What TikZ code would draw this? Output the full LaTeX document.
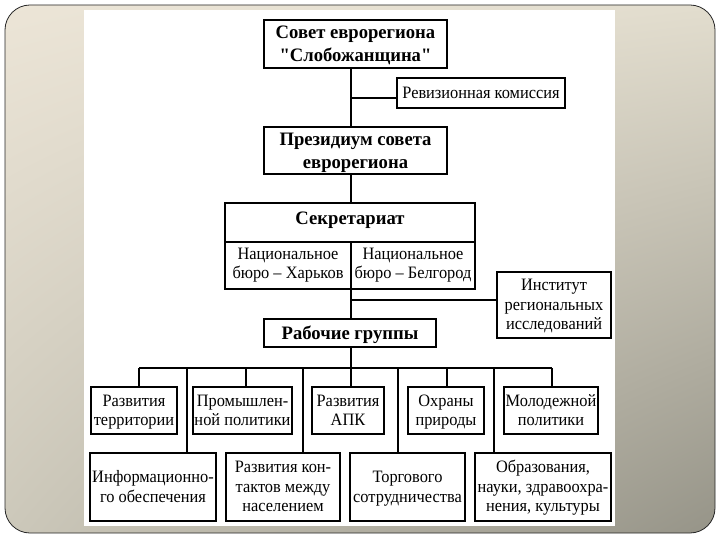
\documentclass[tikz,border=0pt]{standalone}
\usepackage{fontspec}
\setmainfont{Liberation Serif}[FakeStretch=0.94, Ligatures=TeXOff]
\newfontfamily\titleserif{Liberation Serif}[FakeStretch=0.98, Ligatures=TeXOff]
\usetikzlibrary{shadings}
\definecolor{bgUL}{RGB}{236,229,215}
\definecolor{bgUR}{RGB}{226,221,206}
\definecolor{bgLL}{RGB}{204,200,186}
\definecolor{bgLR}{RGB}{150,148,136}
\newcommand{\mytop}{\rule{0pt}{15pt}}
\newcommand{\mytopb}{\rule{0pt}{17.5pt}}
\newcommand{\mybot}{\rule[-4.5pt]{0pt}{4.5pt}}
\begin{document}
\begin{tikzpicture}[x=1pt,y=-1pt,
  regfont/.style={font=\fontsize{17.4}{19.5}\selectfont},
  boldfont/.style={font=\titleserif\fontsize{19}{23}\selectfont\bfseries},
  box/.style={draw, line width=1.3pt, inner sep=0pt, align=center, regfont,
    execute at end node={\mybot}},
  bbox/.style={box, boldfont},
  txt/.style={inner sep=0pt, align=center, regfont, execute at end node={\mybot}},
  conn/.style={line width=1.15pt}]
\useasboundingbox (0,0) rectangle (720,540);
\fill[white] (0,0) rectangle (720,540);
\shade[rounded corners=25pt,
  upper left=bgUL, upper right=bgUR, lower left=bgLL, lower right=bgLR] (5,5) rectangle (715,533);
\draw[line width=0.8pt, black!85, rounded corners=25pt] (5,5) rectangle (715,533);
\fill[white] (84,10) rectangle (615,526);

% nodes
\node[bbox, minimum width=183, minimum height=48] (sovet) at (355.5,44) {\mytopb Совет еврорегиона\\"Слобожанщина"};
\node[box, minimum width=168, minimum height=30] (reviz) at (481,93) {\mytop Ревизионная комиссия};
\node[bbox, minimum width=183, minimum height=47] (prez) at (355.5,150.5) {\mytopb Президиум совета\\еврорегиона};
\node[draw, line width=1.3pt, inner sep=0pt, minimum width=250, minimum height=86] (sekr) at (350,246) {};
\node[inner sep=0pt, boldfont] (sekrt) at (350,220) {Секретариат};
\node[txt] (kh) at (288,263.5) {\mytop Национальное\\бюро – Харьков};
\node[txt] (bel) at (413,263.5) {\mytop Национальное\\бюро – Белгород};
\node[box, minimum width=114, minimum height=66] (inst) at (554,305) {\mytop Институт\\региональных\\исследований};
\node[bbox, minimum width=172, minimum height=28] (rab) at (350,333) {\mytopb Рабочие группы};

\node[box, minimum width=86, minimum height=47] (t1) at (134,410.5) {\mytop Развития\\территории};
\node[box, minimum width=99, minimum height=47] (t2) at (242.5,410.5) {\mytop Промышлен-\\ной политики};
\node[box, minimum width=72, minimum height=47] (t3) at (348,410.5) {\mytop Развития\\АПК};
\node[box, minimum width=76, minimum height=47] (t4) at (446,410.5) {\mytop Охраны\\природы};
\node[box, minimum width=94, minimum height=47] (t5) at (551,410.5) {\mytop Молодежной\\политики};

\node[box, minimum width=126, minimum height=68] (b1) at (153,487) {\mytop Информационно-\\го обеспечения};
\node[box, minimum width=114, minimum height=68] (b2) at (283,487) {\mytop Развития кон-\\тактов между\\населением};
\node[box, minimum width=115, minimum height=68] (b3) at (407.5,487) {\mytop Торгового\\сотрудничества};
\node[box, minimum width=136, minimum height=68] (b4) at (543,487) {\mytop Образования,\\науки, здравоохра-\\нения, культуры};

% internal lines of the secretariat
\coordinate (sdivL) at (225,242);
\coordinate (sdivR) at (475,242);
\coordinate (smid) at (351,242);
\draw[conn] (sdivL) -- (sdivR);
\draw[conn] (smid) -- (smid |- sekr.south);

% spine
\coordinate (sp1) at (351,98);
\coordinate (sp2) at (351,300);
\coordinate (bus) at (351,368);
\draw[conn] (sovet.south -| sp1) -- (prez.north -| sp1);
\draw[conn] (sp1) -- (sp1 -| reviz.west);
\draw[conn] (prez.south -| sp1) -- (sekr.north -| sp1);
\draw[conn] (sekr.south -| sp2) -- (rab.north -| sp2);
\draw[conn] (sp2) -- (sp2 -| inst.west);
\draw[conn] (rab.south -| bus) -- (bus);

% bus
\coordinate (busL) at (139,368);
\coordinate (busR) at (552,368);
\draw[conn] (busL) -- (busR);
\coordinate (d1) at (139,368);
\coordinate (d2) at (246,368);
\coordinate (d3) at (351,368);
\coordinate (d4) at (447,368);
\coordinate (d5) at (552,368);
\draw[conn] (d1) -- (d1 |- t1.north);
\draw[conn] (d2) -- (d2 |- t2.north);
\draw[conn] (d3) -- (d3 |- t3.north);
\draw[conn] (d4) -- (d4 |- t4.north);
\draw[conn] (d5) -- (d5 |- t5.north);
\coordinate (e1) at (187,368);
\coordinate (e2) at (303,368);
\coordinate (e3) at (398,368);
\coordinate (e4) at (494,368);
\draw[conn] (e1) -- (e1 |- b1.north);
\draw[conn] (e2) -- (e2 |- b2.north);
\draw[conn] (e3) -- (e3 |- b3.north);
\draw[conn] (e4) -- (e4 |- b4.north);
\end{tikzpicture}
\end{document}
